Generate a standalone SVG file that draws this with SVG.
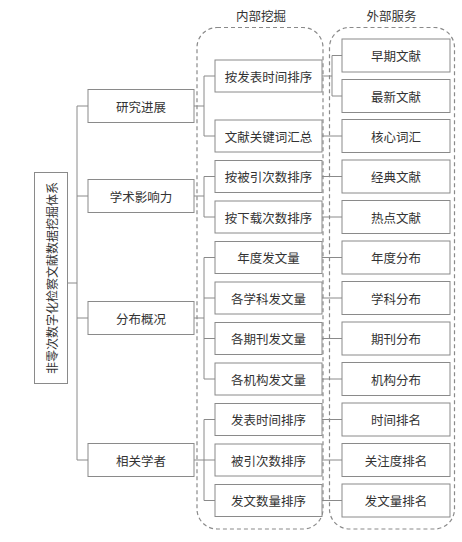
<svg xmlns="http://www.w3.org/2000/svg" width="462" height="542" viewBox="0 0 462 542">
<style>
.box{fill:#fff;stroke:#8a8a8a;stroke-width:1}
.t{font-family:"Noto Sans CJK SC","Noto Sans",sans-serif;font-size:12.5px;fill:#333;text-anchor:middle;dominant-baseline:central}
.c{fill:none;stroke:#8a8a8a;stroke-width:1}
.d{fill:none;stroke:#8a8a8a;stroke-width:1.2;stroke-dasharray:4,3}
</style>
<rect width="462" height="542" fill="#fff"/>
<g id="groups">
<rect class="d" x="197" y="27.5" width="126" height="501.5" rx="20" ry="20"/>
<rect class="d" x="329.5" y="27.5" width="125" height="501.5" rx="20" ry="20"/>
<text class="t" x="261" y="15">内部挖掘</text>
<text class="t" x="391.5" y="15">外部服务</text>
</g>
<g id="connectors">
<path class="c" d="M67.5 283H77M77 106V460M77 106H88M77 196H88M77 318H88M77 460H88"/>
<path class="c" d="M194 106H204M204 76V136M204 76H215M204 136H215"/>
<path class="c" d="M194 196H204M204 176.5V217M204 176.5H215M204 217H215"/>
<path class="c" d="M194 318H204M204 257.5V379M204 257.5H215M204 298H215M204 338.5H215M204 379H215"/>
<path class="c" d="M194 460H204M204 419.5V500.5M204 419.5H215M204 460H215M204 500.5H215"/>
<path class="c" d="M322 76H332M332 55.5V96M332 55.5H342M332 96H342"/>
<path class="c" d="M322 136H342M322 176.5H342M322 217H342M322 257.5H342M322 298H342M322 338.5H342M322 379H342M322 419.5H342M322 460H342M322 500.5H342"/>
</g>
<g id="root">
<rect class="box" x="34.5" y="172.5" width="33" height="211"/>
<text class="t" transform="translate(51,278) rotate(-90)" x="0" y="0" style="font-size:12px">非零次数字化检察文献数据挖掘体系</text>
</g>
<g id="l1-1"><rect class="box" x="88" y="89.5" width="106" height="33"/><text class="t" x="141" y="106">研究进展</text></g>
<g id="l1-2"><rect class="box" x="88" y="179.5" width="106" height="33"/><text class="t" x="141" y="196">学术影响力</text></g>
<g id="l1-3"><rect class="box" x="88" y="301.5" width="106" height="33"/><text class="t" x="141" y="318">分布概况</text></g>
<g id="l1-4"><rect class="box" x="88" y="443.5" width="106" height="33"/><text class="t" x="141" y="460">相关学者</text></g>
<g id="m1"><rect class="box" x="215" y="60" width="107" height="32"/><text class="t" x="268.5" y="76">按发表时间排序</text></g>
<g id="m2"><rect class="box" x="215" y="120" width="107" height="32"/><text class="t" x="268.5" y="136">文献关键词汇总</text></g>
<g id="m3"><rect class="box" x="215" y="160.5" width="107" height="32"/><text class="t" x="268.5" y="176.5">按被引次数排序</text></g>
<g id="m4"><rect class="box" x="215" y="201" width="107" height="32"/><text class="t" x="268.5" y="217">按下载次数排序</text></g>
<g id="m5"><rect class="box" x="215" y="241.5" width="107" height="32"/><text class="t" x="268.5" y="257.5">年度发文量</text></g>
<g id="m6"><rect class="box" x="215" y="282" width="107" height="32"/><text class="t" x="268.5" y="298">各学科发文量</text></g>
<g id="m7"><rect class="box" x="215" y="322.5" width="107" height="32"/><text class="t" x="268.5" y="338.5">各期刊发文量</text></g>
<g id="m8"><rect class="box" x="215" y="363" width="107" height="32"/><text class="t" x="268.5" y="379">各机构发文量</text></g>
<g id="m9"><rect class="box" x="215" y="403.5" width="107" height="32"/><text class="t" x="268.5" y="419.5">发表时间排序</text></g>
<g id="m10"><rect class="box" x="215" y="444" width="107" height="32"/><text class="t" x="268.5" y="460">被引次数排序</text></g>
<g id="m11"><rect class="box" x="215" y="484.5" width="107" height="32"/><text class="t" x="268.5" y="500.5">发文数量排序</text></g>
<g id="r1"><rect class="box" x="342" y="39" width="108" height="33"/><text class="t" x="396" y="55.5">早期文献</text></g>
<g id="r2"><rect class="box" x="342" y="79.5" width="108" height="33"/><text class="t" x="396" y="96">最新文献</text></g>
<g id="r3"><rect class="box" x="342" y="119.5" width="108" height="33"/><text class="t" x="396" y="136">核心词汇</text></g>
<g id="r4"><rect class="box" x="342" y="160" width="108" height="33"/><text class="t" x="396" y="176.5">经典文献</text></g>
<g id="r5"><rect class="box" x="342" y="200.5" width="108" height="33"/><text class="t" x="396" y="217">热点文献</text></g>
<g id="r6"><rect class="box" x="342" y="241" width="108" height="33"/><text class="t" x="396" y="257.5">年度分布</text></g>
<g id="r7"><rect class="box" x="342" y="281.5" width="108" height="33"/><text class="t" x="396" y="298">学科分布</text></g>
<g id="r8"><rect class="box" x="342" y="322" width="108" height="33"/><text class="t" x="396" y="338.5">期刊分布</text></g>
<g id="r9"><rect class="box" x="342" y="362.5" width="108" height="33"/><text class="t" x="396" y="379">机构分布</text></g>
<g id="r10"><rect class="box" x="342" y="403" width="108" height="33"/><text class="t" x="396" y="419.5">时间排名</text></g>
<g id="r11"><rect class="box" x="342" y="443.5" width="108" height="33"/><text class="t" x="396" y="460">关注度排名</text></g>
<g id="r12"><rect class="box" x="342" y="484" width="108" height="33"/><text class="t" x="396" y="500.5">发文量排名</text></g>
</svg>
